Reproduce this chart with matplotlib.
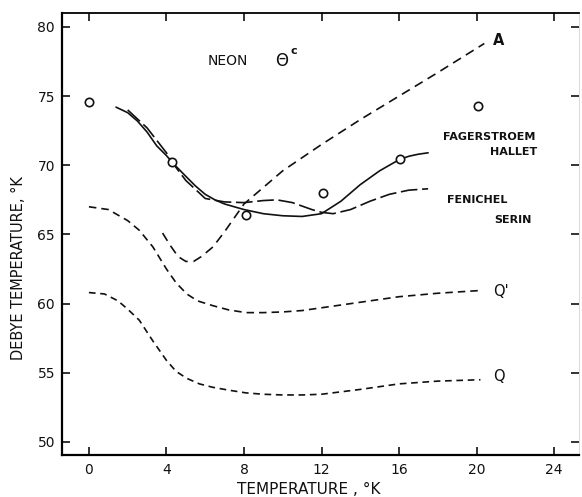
import matplotlib
matplotlib.use("Agg")
import matplotlib.pyplot as plt

plt.rcParams['font.family'] = ['DejaVu Sans']

# Experimental points (Neon Theta^c)
pts_x = [0.0, 4.3, 8.1, 12.1, 16.05, 20.05]
pts_y = [74.6, 70.25, 66.4, 68.0, 70.45, 74.3]

# Fagerstroem-Hallet (solid)
fh_x = [1.4, 2.0, 2.5, 3.0, 3.5, 4.0, 4.3, 5.0, 5.5, 6.0, 6.5, 7.0, 8.0, 9.0, 10.0, 11.0, 12.0, 13.0, 14.0, 15.0, 16.0, 16.5, 17.0, 17.5]
fh_y = [74.2, 73.8, 73.2, 72.4, 71.4, 70.7, 70.2, 69.2, 68.5, 67.9, 67.5, 67.2, 66.8, 66.5, 66.35, 66.3, 66.5, 67.4, 68.6, 69.6, 70.4, 70.65, 70.8, 70.9]

# Fenichel-Serin (long dash)
fs_x = [2.0, 3.0, 4.0, 4.3, 5.0, 6.0, 7.0, 8.0, 9.0, 9.7, 10.5, 11.5, 12.0, 12.6, 13.5, 14.5, 15.5, 16.5, 17.5]
fs_y = [74.0, 72.7, 70.9, 70.2, 68.9, 67.6, 67.35, 67.3, 67.45, 67.5, 67.3, 66.8, 66.6, 66.5, 66.8, 67.4, 67.9, 68.2, 68.3]

# Curve A
a_x = [3.8, 4.2, 4.6, 5.0, 5.4, 5.8, 6.4, 7.0, 8.0, 9.0, 10.0, 12.0, 14.0, 16.0, 18.0, 20.4]
a_y = [65.1, 64.2, 63.4, 63.05, 63.05, 63.4, 64.1, 65.2, 67.2, 68.4, 69.6, 71.5, 73.3, 75.0, 76.7, 78.8]

# Curve Q'
qp_x = [0.0, 1.0, 2.0, 2.6, 3.3, 4.0, 4.5, 5.05, 5.6, 6.4, 7.2, 8.1, 9.0, 10.0, 11.0, 12.0, 14.0, 16.0, 18.0, 20.2]
qp_y = [67.0, 66.8, 66.0, 65.3, 64.1, 62.5, 61.5, 60.7, 60.2, 59.85, 59.55, 59.35, 59.35, 59.4, 59.5, 59.7, 60.1, 60.5, 60.75, 60.95]

# Curve Q
q_x = [0.0, 0.8, 1.5, 2.0, 2.6, 3.3, 4.0, 4.5, 5.05, 5.7, 6.4, 7.2, 8.1, 9.0, 10.0, 11.0, 12.0, 14.0, 16.0, 18.0, 20.2]
q_y = [60.8, 60.7, 60.2, 59.6, 58.8, 57.3, 55.9, 55.1, 54.6, 54.2, 53.95, 53.75, 53.55, 53.45, 53.4, 53.4, 53.45, 53.8, 54.2, 54.4, 54.5]

xticks = [0, 4, 8, 12, 16, 20, 24]
yticks = [50, 55, 60, 65, 70, 75, 80]

fig = plt.figure(figsize=(5.82, 4.97), dpi=100)
ax = fig.add_axes([0.1065, 0.0845, 0.8885, 0.8895])

k = '#111111'
ax.plot(fh_x, fh_y, color=k, lw=1.2, solid_capstyle='round')
ax.plot(fs_x, fs_y, color=k, lw=1.2, dashes=(10, 2.8))
ax.plot(a_x, a_y, color=k, lw=1.2, dashes=(5.5, 3.5))
ax.plot(qp_x, qp_y, color=k, lw=1.2, dashes=(4.5, 3))
ax.plot(q_x, q_y, color=k, lw=1.2, dashes=(4, 2.8))
ax.plot(pts_x, pts_y, 'o', mfc='white', mec=k, mew=1.2, ms=6)

ax.set_xlim(-1.39, 25.29)
ax.set_ylim(49.06, 81.01)
ax.set_xticks(xticks)
ax.set_yticks(yticks)
ax.tick_params(direction='in', length=6, width=1.2, top=True, right=True,
               labelsize=10, colors=k)
ax.tick_params(axis='x', pad=6)
ax.tick_params(axis='y', pad=5)
for s in ['left', 'bottom']:
    ax.spines[s].set_linewidth(1.6)
ax.spines['top'].set_linewidth(1.3)
ax.spines['right'].set_linewidth(0.5)
ax.spines['right'].set_color('#cccccc')

ax.text(6.15, 77.5, 'NEON', fontsize=10, ha='left', va='center', color=k)
ax.text(9.96, 77.55, 'Θ', fontsize=12, ha='center', va='center', color=k)
ax.text(10.4, 78.25, 'c', fontsize=8, ha='left', va='center', color=k, fontweight='bold')
ax.text(20.85, 79.05, 'A', fontsize=10.5, ha='left', va='center', color=k, fontweight='bold')
ax.text(18.27, 72.05, 'FAGERSTROEM', fontsize=8, ha='left', va='center', color=k, fontweight='bold')
ax.text(23.12, 70.95, 'HALLET', fontsize=8, ha='right', va='center', color=k, fontweight='bold')
ax.text(18.48, 67.5, 'FENICHEL', fontsize=8, ha='left', va='center', color=k, fontweight='bold')
ax.text(22.86, 66.05, 'SERIN', fontsize=8, ha='right', va='center', color=k, fontweight='bold')
ax.text(20.85, 60.85, "Q'", fontsize=10.5, ha='left', va='center', color=k)
ax.text(20.85, 54.7, 'Q', fontsize=10.5, ha='left', va='center', color=k)

fig.text(309 / 582, 1 - 489 / 497, 'TEMPERATURE , °K', fontsize=11, ha='center', va='center', color=k)
fig.text(19 / 582, 1 - 268 / 497, 'DEBYE TEMPERATURE, °K', fontsize=10.5, ha='center', va='center',
         rotation=90, color=k)

fig.savefig('out.png', dpi=100, facecolor='white')
